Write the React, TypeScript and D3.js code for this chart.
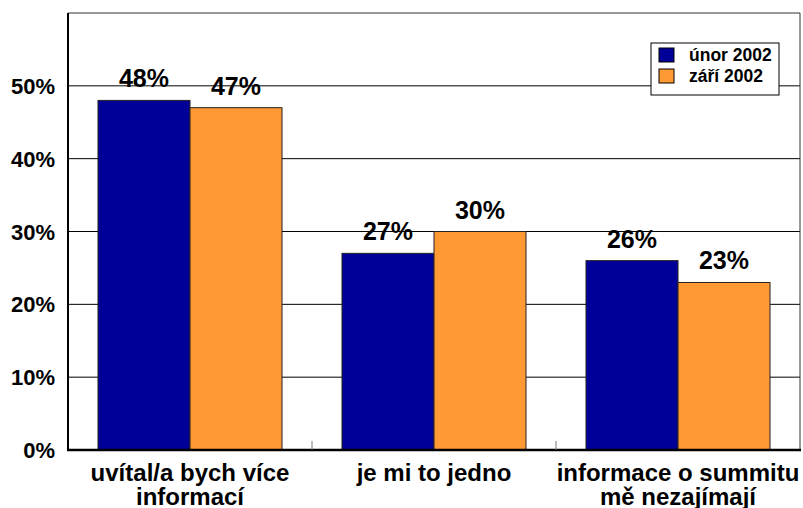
import React from 'react';
import * as d3 from 'd3';

const categories = [['uvítal/a bych více', 'informací'], ['je mi to jedno'], ['informace o summitu', 'mě nezajímají']];
const seriesNames = ['únor 2002', 'září 2002'];
const feb2002 = [48, 27, 26];
const sep2002 = [47, 30, 23];
const yTicks = [0, 10, 20, 30, 40, 50];
const colors = ['#000099', '#FF9933'];

export default function App() {
  const width = 803;
  const height = 508;
  const left = 68, right = 800, top = 13, bottom = 450;
  const font = 'Liberation Sans, Arial, sans-serif';

  const y = d3.scaleLinear().domain([0, 60]).range([bottom, top]);
  const x = d3.scaleBand().domain(categories.map((_, i) => String(i))).range([left, right]);
  const inner = d3.scaleBand().domain(seriesNames).range([0, x.bandwidth()]).paddingOuter(0.326).paddingInner(0);
  const series = [feb2002, sep2002];

  return (
    <svg width={width} height={height} style={{ position: 'absolute', left: 0, top: 0 }} fontFamily={font}>
      <rect x={0} y={0} width={width} height={height} fill="#fff" />
      {yTicks.slice(1).map(t => (
        <line key={t} x1={left} x2={right} y1={y(t)} y2={y(t)} stroke="#000" strokeWidth={1} />
      ))}
      <line x1={left} x2={right} y1={top} y2={top} stroke="#333" strokeWidth={1} />
      <line x1={right} x2={right} y1={top} y2={bottom} stroke="#333" strokeWidth={1} />
      {series.map((vals, s) =>
        vals.map((v, i) => {
          const bx = (x(String(i)) as number) + (inner(seriesNames[s]) as number);
          return (
            <g key={s + '-' + i}>
              <rect x={bx} y={y(v)} width={inner.bandwidth()} height={bottom - y(v)} fill={colors[s]} stroke="#222" strokeWidth={1} />
              <text x={bx + inner.bandwidth() / 2} y={y(v) - 13} textAnchor="middle" fontSize={25} fontWeight="bold">{v}%</text>
            </g>
          );
        })
      )}
      <line x1={left} x2={left} y1={top} y2={bottom} stroke="#000" strokeWidth={2} />
      <line x1={left - 1} x2={right + 1} y1={bottom} y2={bottom} stroke="#000" strokeWidth={2.5} />
      {categories.slice(1).map((_, i) => {
        const tx = x(String(i + 1)) as number;
        return <line key={i} x1={tx} x2={tx} y1={bottom} y2={bottom - 9} stroke="#777" strokeWidth={1} />;
      })}
      {yTicks.map(t => (
        <text key={t} x={55} y={y(t) + 8} textAnchor="end" fontSize={22} fontWeight="bold">{t}%</text>
      ))}
      {categories.map((lines, i) => (
        <text key={i} textAnchor="middle" fontSize={24} fontWeight="bold">
          {lines.map((l, j) => (
            <tspan key={j} x={(x(String(i)) as number) + x.bandwidth() / 2} y={481 + j * 24}>{l}</tspan>
          ))}
        </text>
      ))}
      <g transform="translate(651,43)">
        <rect x={0} y={0} width={128} height={52} fill="#fff" stroke="#000" strokeWidth={1} />
        {seriesNames.map((n, s) => (
          <g key={n} transform={`translate(8,${5 + s * 21})`}>
            <rect x={0} y={0} width={15} height={14} fill={colors[s]} stroke="#000" strokeWidth={1} />
            <text x={30} y={13} fontSize={17.5} fontWeight="bold">{n}</text>
          </g>
        ))}
      </g>
    </svg>
  );
}
